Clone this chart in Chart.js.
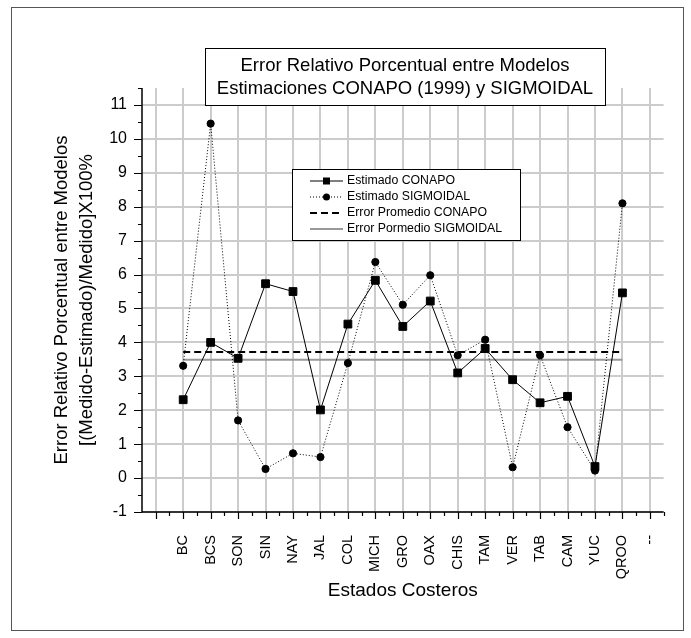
<!DOCTYPE html>
<html lang="es">
<head>
<meta charset="utf-8">
<title>Error Relativo Porcentual entre Modelos</title>
<script src="https://cdn.jsdelivr.net/npm/chart.js@4.4.1/dist/chart.umd.min.js"></script>
<style>
  html, body { margin: 0; padding: 0; background: #fff; }
  #grafica { display: block; }
</style>
</head>
<body>
<canvas id="grafica" width="691" height="638"></canvas>
<script>
// Datos
const estados = ['BC', 'BCS', 'SON', 'SIN', 'NAY', 'JAL', 'COL', 'MICH', 'GRO', 'OAX', 'CHIS', 'TAM', 'VER', 'TAB', 'CAM', 'YUC', 'QROO'];
const etiquetasX = ['', ...estados, '--'];
const estimadoConapo = [2.31, 4.00, 3.53, 5.73, 5.50, 2.01, 4.54, 5.83, 4.47, 5.22, 3.10, 3.82, 2.90, 2.22, 2.41, 0.34, 5.46];
const estimadoSigmoidal = [3.31, 10.45, 1.70, 0.27, 0.73, 0.62, 3.39, 6.37, 5.11, 5.98, 3.62, 4.08, 0.32, 3.62, 1.50, 0.22, 8.10];
const promedios = [3.72, 3.49]; // CONAPO, SIGMOIDAL
const ticksY = [-1, 0, 1, 2, 3, 4, 5, 6, 7, 8, 9, 10, 11];

const titulo = ['Error Relativo Porcentual entre Modelos', 'Estimaciones CONAPO (1999) y SIGMOIDAL'];
const F = 'Arial, "Liberation Sans", sans-serif';
const GRIS = '#cccccc';

// la primera y la última categoría van vacías
const rellenar = arr => [null, ...arr, null];

// fondo y marco exterior
const marco = {
  id: 'marco',
  beforeDraw(chart) {
    const ctx = chart.ctx;
    ctx.save();
    ctx.fillStyle = '#fff';
    ctx.fillRect(0, 0, chart.width, chart.height);
    ctx.strokeStyle = '#555';
    ctx.lineWidth = 1;
    ctx.strokeRect(11.5, 7.5, 672, 623);
    ctx.restore();
  }
};

// rejilla gris en cada categoría y en cada entero
const rejilla = {
  id: 'rejilla',
  beforeDatasetsDraw(chart) {
    const { ctx, scales: { x, y }, chartArea: a } = chart;
    ctx.save();
    ctx.strokeStyle = GRIS;
    ctx.lineWidth = 2;
    ctx.beginPath();
    etiquetasX.forEach((_, i) => {
      const px = Math.round(x.getPixelForValue(i));
      ctx.moveTo(px, a.top);
      ctx.lineTo(px, a.bottom);
    });
    ticksY.forEach(v => {
      const py = Math.round(y.getPixelForValue(v));
      ctx.moveTo(a.left, py);
      ctx.lineTo(a.right, py);
    });
    ctx.stroke();
    ctx.restore();
  }
};

// ejes y marcas mayores y menores
const marcasEjes = {
  id: 'marcasEjes',
  afterDraw(chart) {
    const { ctx, scales: { x, y }, chartArea: a } = chart;
    ctx.save();
    ctx.strokeStyle = '#000';
    ctx.lineWidth = 1.5;
    ctx.beginPath();
    ctx.moveTo(a.left, a.top);
    ctx.lineTo(a.left, a.bottom);
    ctx.lineTo(a.right, a.bottom);
    ctx.stroke();
    ctx.lineWidth = 1.2;
    ctx.beginPath();
    y.ticks.forEach(t => {
      const py = Math.round(y.getPixelForValue(t.value)) + 0.5;
      const len = Number.isInteger(t.value) ? 8 : 4;
      ctx.moveTo(a.left - len, py);
      ctx.lineTo(a.left, py);
    });
    const paso = x.getPixelForValue(1) - x.getPixelForValue(0);
    etiquetasX.forEach((_, i) => {
      const px = Math.round(x.getPixelForValue(i)) + 0.5;
      ctx.moveTo(px, a.bottom);
      ctx.lineTo(px, a.bottom + 7);
      const pm = Math.round(x.getPixelForValue(i) + paso / 2) + 0.5;
      ctx.moveTo(pm, a.bottom);
      ctx.lineTo(pm, a.bottom + 4);
    });
    ctx.stroke();
    ctx.restore();
  }
};

// título dentro de un recuadro
const cajaTitulo = {
  id: 'cajaTitulo',
  afterDraw(chart) {
    const ctx = chart.ctx;
    ctx.save();
    ctx.fillStyle = '#fff';
    ctx.fillRect(205, 48, 400, 57);
    ctx.strokeStyle = '#000';
    ctx.lineWidth = 1;
    ctx.strokeRect(205.5, 48.5, 400, 57);
    ctx.fillStyle = '#000';
    ctx.font = '18.5px ' + F;
    ctx.textAlign = 'center';
    ctx.textBaseline = 'alphabetic';
    titulo.forEach((t, i) => ctx.fillText(t, 405, 71 + i * 22.6));
    ctx.restore();
  }
};

// leyenda dentro del área de la gráfica
const leyenda = {
  id: 'leyenda',
  afterDraw(chart) {
    const ctx = chart.ctx;
    ctx.save();
    ctx.fillStyle = '#fff';
    ctx.fillRect(292.5, 169.5, 228, 71);
    ctx.strokeStyle = '#000';
    ctx.lineWidth = 1;
    ctx.strokeRect(292.5, 169.5, 228, 71);
    ctx.font = '12.3px ' + F;
    ctx.textBaseline = 'middle';
    ctx.textAlign = 'left';
    chart.data.datasets.forEach((ds, i) => {
      const cy = 181 + i * 16;
      ctx.strokeStyle = ds.borderColor;
      ctx.lineWidth = ds.borderWidth;
      ctx.setLineDash(ds.borderDash || []);
      ctx.beginPath();
      ctx.moveTo(310, cy);
      ctx.lineTo(343, cy);
      ctx.stroke();
      ctx.setLineDash([]);
      ctx.fillStyle = '#000';
      if (ds.pointStyle === 'rect') {
        ctx.fillRect(323, cy - 3.5, 7, 7);
      } else if (ds.pointStyle === 'circle') {
        ctx.beginPath();
        ctx.arc(326.5, cy, 3.5, 0, Math.PI * 2);
        ctx.fill();
      }
      ctx.fillText(ds.label, 347, cy);
    });
    ctx.restore();
  }
};

const ctx = document.getElementById('grafica').getContext('2d');
const grafica = new Chart(ctx, {
  type: 'line',
  data: {
    labels: etiquetasX,
    datasets: [
      {
        label: 'Estimado CONAPO',
        data: rellenar(estimadoConapo),
        borderColor: '#000',
        borderWidth: 1,
        pointStyle: 'rect',
        pointRadius: 5.5,
        pointBackgroundColor: '#000',
        pointBorderColor: '#000',
        pointBorderWidth: 1,
        order: 0
      },
      {
        label: 'Estimado SIGMOIDAL',
        data: rellenar(estimadoSigmoidal),
        borderColor: '#000',
        borderWidth: 1,
        borderDash: [1, 2],
        pointStyle: 'circle',
        pointRadius: 3.6,
        pointBackgroundColor: '#000',
        pointBorderColor: '#000',
        pointBorderWidth: 1,
        order: 1
      },
      {
        label: 'Error Promedio CONAPO',
        data: rellenar(estados.map(() => promedios[0])),
        borderColor: '#000',
        borderWidth: 2,
        borderDash: [7, 4],
        pointRadius: 0,
        order: 2
      },
      {
        label: 'Error Pormedio SIGMOIDAL',
        data: rellenar(estados.map(() => promedios[1])),
        borderColor: '#999',
        borderWidth: 2,
        pointRadius: 0,
        order: 3
      }
    ]
  },
  options: {
    responsive: false,
    animation: false,
    devicePixelRatio: 1,
    layout: { padding: { top: 88, right: 27, left: 40, bottom: 20 } },
    plugins: {
      legend: { display: false },
      title: { display: false },
      tooltip: { enabled: false }
    },
    scales: {
      x: {
        offset: true,
        grid: { display: false, drawTicks: false },
        border: { display: false },
        ticks: {
          autoSkip: false,
          maxRotation: 90,
          minRotation: 90,
          padding: 23,
          color: '#000',
          font: { family: F, size: 14.5 }
        },
        title: {
          display: true,
          text: 'Estados Costeros',
          color: '#000',
          font: { family: F, size: 19 },
          padding: { top: 0, bottom: 16 }
        },
        afterFit: s => { s.height = 106; }
      },
      y: {
        min: -1,
        max: 11.5,
        grid: { display: false, drawTicks: false },
        border: { display: false },
        ticks: {
          stepSize: 0.5,
          autoSkip: false,
          padding: 15,
          color: '#000',
          font: { family: F, size: 16 },
          callback: v => ticksY.includes(v) ? v : ''
        },
        title: {
          display: true,
          text: ['Error Relativo Porcentual entre Modelos', '[(Medido-Estimado)/Medido]X100%'],
          color: '#000',
          font: { family: F, size: 18.5, lineHeight: 1.35 },
          padding: { top: 9.5, bottom: 0 }
        },
        afterFit: s => { s.width = 102; }
      }
    }
  },
  plugins: [marco, rejilla, marcasEjes, cajaTitulo, leyenda]
});
</script>
</body>
</html>
